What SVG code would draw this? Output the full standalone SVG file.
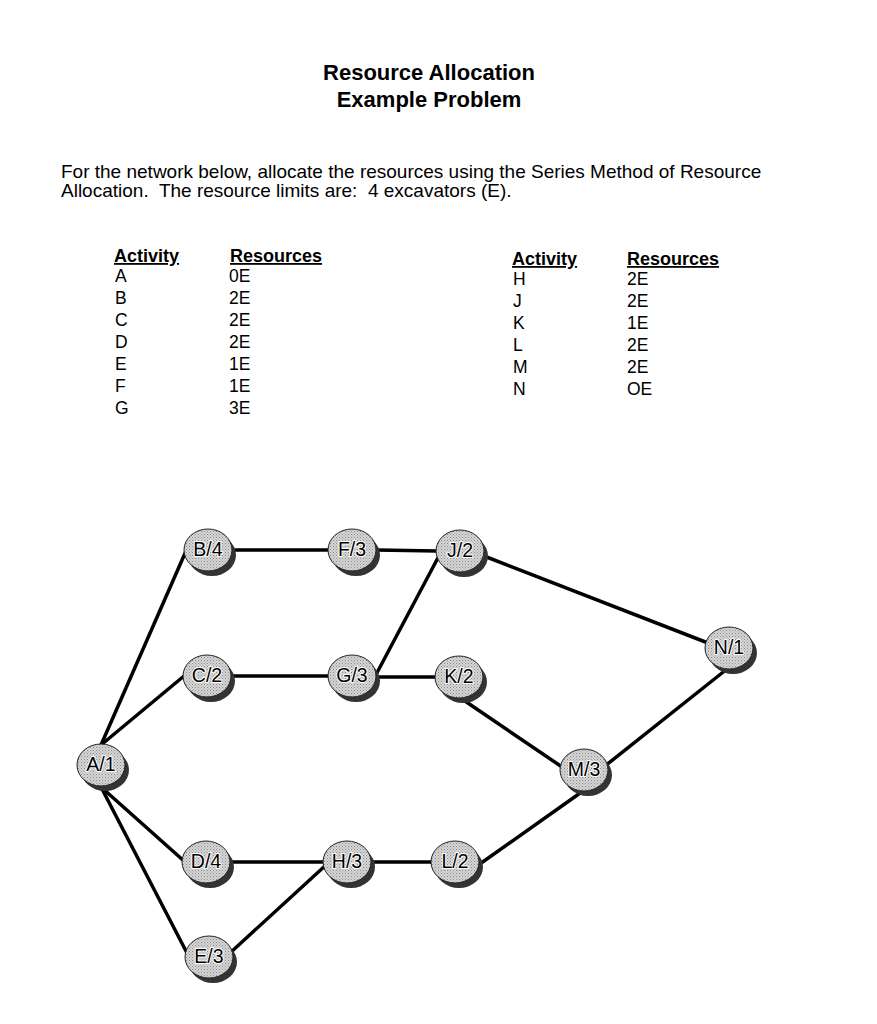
<svg xmlns="http://www.w3.org/2000/svg" width="877" height="1024" viewBox="0 0 877 1024">
<style>
text{font-family:"Liberation Sans",Arial,sans-serif;fill:#000}
.title{font-size:22px;font-weight:bold;text-anchor:middle}
.para{font-size:19px}
.hdr{font-size:18px;font-weight:bold;text-decoration:underline}
.row{font-size:17.5px}
.edge{stroke:#000;stroke-width:3.5;stroke-linecap:round;fill:none}
.shadow{fill:#333}
.body{fill:url(#dots);stroke:#222;stroke-width:1}
.lbl{font-size:19.5px;text-anchor:middle;stroke:#fff;stroke-width:2;paint-order:stroke;stroke-linejoin:round}
</style>
<defs>
<pattern id="dots" width="3" height="3" patternUnits="userSpaceOnUse">
<rect width="3" height="3" fill="#d6d6d6"/>
<rect width="1" height="1" fill="#8a8a8a"/>
<rect x="1.5" y="1.5" width="1" height="1" fill="#9a9a9a"/>
</pattern>
</defs>
<rect width="877" height="1024" fill="#fff"/>
<g id="header">
<text class="title" x="429" y="80">Resource Allocation</text>
<text class="title" x="429" y="107">Example Problem</text>
<text class="para" x="61" y="178">For the network below, allocate the resources using the Series Method of Resource</text>
<text class="para" x="61" y="197" xml:space="preserve">Allocation.  The resource limits are:  4 excavators (E).</text>
</g>
<g id="table-left">
<text class="hdr" x="114" y="262">Activity</text>
<text class="hdr" x="230" y="262">Resources</text>
<text class="row" x="115" y="282">A</text><text class="row" x="229" y="282">0E</text>
<text class="row" x="115" y="304">B</text><text class="row" x="229" y="304">2E</text>
<text class="row" x="115" y="326">C</text><text class="row" x="229" y="326">2E</text>
<text class="row" x="115" y="348">D</text><text class="row" x="229" y="348">2E</text>
<text class="row" x="115" y="370">E</text><text class="row" x="229" y="370">1E</text>
<text class="row" x="115" y="392">F</text><text class="row" x="229" y="392">1E</text>
<text class="row" x="115" y="414">G</text><text class="row" x="229" y="414">3E</text>
</g>
<g id="table-right">
<text class="hdr" x="512" y="265">Activity</text>
<text class="hdr" x="627" y="265">Resources</text>
<text class="row" x="513" y="285">H</text><text class="row" x="627" y="285">2E</text>
<text class="row" x="513" y="307">J</text><text class="row" x="627" y="307">2E</text>
<text class="row" x="513" y="329">K</text><text class="row" x="627" y="329">1E</text>
<text class="row" x="513" y="351">L</text><text class="row" x="627" y="351">2E</text>
<text class="row" x="513" y="373">M</text><text class="row" x="627" y="373">2E</text>
<text class="row" x="513" y="395">N</text><text class="row" x="627" y="395">OE</text>
</g>
<g id="connectors">
<line class="edge" x1="101" y1="745" x2="186" y2="551"/>
<line class="edge" x1="101" y1="745" x2="184" y2="676"/>
<line class="edge" x1="101" y1="787" x2="184" y2="861"/>
<line class="edge" x1="101" y1="787" x2="187" y2="953"/>
<line class="edge" x1="232" y1="550" x2="328" y2="550"/>
<line class="edge" x1="376" y1="550" x2="437" y2="551"/>
<line class="edge" x1="231" y1="676" x2="328" y2="676"/>
<line class="edge" x1="375" y1="677" x2="436" y2="677"/>
<line class="edge" x1="440" y1="554" x2="371" y2="684"/>
<line class="edge" x1="230" y1="862" x2="323" y2="862"/>
<line class="edge" x1="230" y1="953" x2="326" y2="865"/>
<line class="edge" x1="370" y1="862" x2="432" y2="862"/>
<line class="edge" x1="484" y1="556" x2="708" y2="643"/>
<line class="edge" x1="459" y1="697" x2="565" y2="769"/>
<line class="edge" x1="605" y1="766" x2="727" y2="669"/>
<line class="edge" x1="477" y1="866" x2="583" y2="791"/>
</g>
<g id="node-A"><ellipse class="shadow" cx="105" cy="770" rx="24" ry="21"/><ellipse class="body" cx="101" cy="765" rx="24" ry="21"/><text class="lbl" x="101" y="771">A/1</text></g>
<g id="node-B"><ellipse class="shadow" cx="212" cy="555" rx="24" ry="21"/><ellipse class="body" cx="208" cy="550" rx="24" ry="21"/><text class="lbl" x="208" y="556">B/4</text></g>
<g id="node-C"><ellipse class="shadow" cx="211" cy="681" rx="24" ry="21"/><ellipse class="body" cx="207" cy="676" rx="24" ry="21"/><text class="lbl" x="207" y="682">C/2</text></g>
<g id="node-D"><ellipse class="shadow" cx="210" cy="867" rx="24" ry="21"/><ellipse class="body" cx="206" cy="862" rx="24" ry="21"/><text class="lbl" x="206" y="868">D/4</text></g>
<g id="node-E"><ellipse class="shadow" cx="213" cy="962" rx="24" ry="21"/><ellipse class="body" cx="209" cy="957" rx="24" ry="21"/><text class="lbl" x="209" y="963">E/3</text></g>
<g id="node-F"><ellipse class="shadow" cx="356" cy="555" rx="24" ry="21"/><ellipse class="body" cx="352" cy="550" rx="24" ry="21"/><text class="lbl" x="352" y="556">F/3</text></g>
<g id="node-G"><ellipse class="shadow" cx="356" cy="681" rx="24" ry="21"/><ellipse class="body" cx="352" cy="676" rx="24" ry="21"/><text class="lbl" x="352" y="682">G/3</text></g>
<g id="node-H"><ellipse class="shadow" cx="351" cy="867" rx="24" ry="21"/><ellipse class="body" cx="347" cy="862" rx="24" ry="21"/><text class="lbl" x="347" y="868">H/3</text></g>
<g id="node-J"><ellipse class="shadow" cx="464" cy="556" rx="24" ry="21"/><ellipse class="body" cx="460" cy="551" rx="24" ry="21"/><text class="lbl" x="460" y="557">J/2</text></g>
<g id="node-K"><ellipse class="shadow" cx="463" cy="682" rx="24" ry="21"/><ellipse class="body" cx="459" cy="677" rx="24" ry="21"/><text class="lbl" x="459" y="683">K/2</text></g>
<g id="node-L"><ellipse class="shadow" cx="459" cy="867" rx="24" ry="21"/><ellipse class="body" cx="455" cy="862" rx="24" ry="21"/><text class="lbl" x="455" y="868">L/2</text></g>
<g id="node-M"><ellipse class="shadow" cx="588" cy="775" rx="24" ry="21"/><ellipse class="body" cx="584" cy="770" rx="24" ry="21"/><text class="lbl" x="584" y="776">M/3</text></g>
<g id="node-N"><ellipse class="shadow" cx="733" cy="653" rx="24" ry="21"/><ellipse class="body" cx="729" cy="648" rx="24" ry="21"/><text class="lbl" x="729" y="654">N/1</text></g>
</svg>
